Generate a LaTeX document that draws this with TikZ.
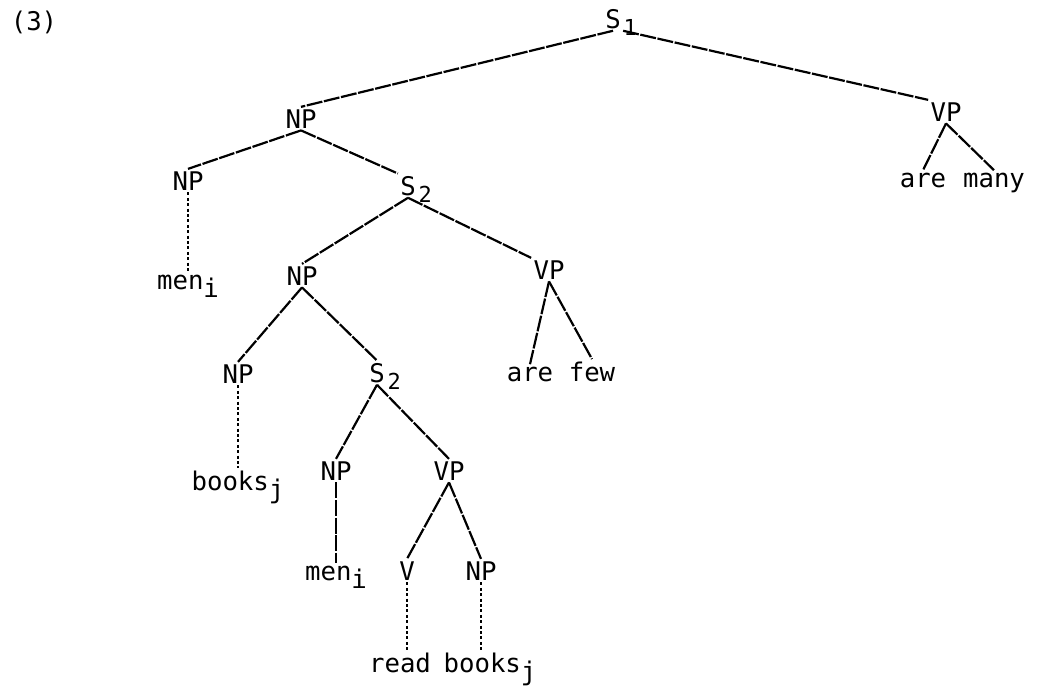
\documentclass[tikz,border=0pt]{standalone}
\usepackage{fontspec}
\newfontfamily\tw{DejaVu Sans Mono}
\newcommand\lowsub[1]{\raisebox{-4pt}[0pt][0pt]{#1}}
\begin{document}
\begin{tikzpicture}[x=0.5pt,y=-0.5pt,
  lab/.style={anchor=base, inner sep=1pt, font={\tw\fontsize{12.85}{15}\selectfont}},
  subl/.style={anchor=north west, inner sep=0pt, font={\tw\fontsize{11}{11}\selectfont}},
  br/.style={line width=1.1pt, dash pattern=on 8pt off 0.8pt},
  vt/.style={line width=1.1pt, dash pattern=on 1.5pt off 1.2pt}]
\useasboundingbox (0,0) rectangle (1037,691);
% nodes
\node[lab] (ex) at (34,30) {(3)};
\node[lab, label={[subl]east:1}] (s1) at (613,28) {S};
\node[lab] (np1) at (301,128) {NP};
\node[lab] (vp0) at (946,121) {VP};
\node[lab] (are0) at (923,187) {are};
\node[lab] (many) at (994,187) {many};
\node[lab] (np2) at (188,190) {NP};
\node[lab, label={[subl]east:2}] (s2) at (408,195) {S};
\node[lab] (men1) at (188,289) {men\lowsub{i}};
\node[lab] (np3) at (302,285) {NP};
\node[lab] (vp1) at (549,279) {VP};
\node[lab] (are1) at (530,381) {are};
\node[lab] (few) at (592,381) {few};
\node[lab] (np4) at (238,383) {NP};
\node[lab, label={[subl]east:2}] (s3) at (377,382) {S};
\node[lab] (books1) at (238,490) {books\lowsub{j}};
\node[lab] (np5) at (336,480) {NP};
\node[lab] (vp2) at (449,480) {VP};
\node[lab] (men2) at (336,580) {men\lowsub{i}};
\node[lab] (v) at (407,580) {V};
\node[lab] (np6) at (481,580) {NP};
\node[lab] (read) at (400,672) {read};
\node[lab] (books2) at (490,672) {books\lowsub{j}};
% edges
\draw[br] (s1.south) -- (np1.north);
\draw[br] (s1.south east) -- (vp0.north west);
\draw[br] (vp0.south) -- (are0.north);
\draw[br] (vp0.south) -- (many.north);
\draw[br] (np1.south) -- (np2.north);
\draw[br] (np1.south) -- (s2.north west);
\draw[vt] (np2.south) -- (np2.south |- men1.north);
\draw[br] (s2.south) -- (np3.north);
\draw[br] (s2.south) -- (vp1.north west);
\draw[br] (vp1.south) -- (are1.north);
\draw[br] (vp1.south) -- (few.north);
\draw[br] (np3.south) -- (np4.north);
\draw[br] (np3.south) -- (s3.north);
\draw[vt] (np4.south) -- (np4.south |- books1.north);
\draw[br] (s3.south) -- (np5.north);
\draw[br] (s3.south) -- (vp2.north);
\draw[br] (np5.south) -- (np5.south |- men2.north);
\draw[br] (vp2.south) -- (v.north);
\draw[br] (vp2.south) -- (np6.north);
\draw[vt] (v.south) -- (v.south |- read.north);
\draw[vt] (np6.south) -- (np6.south |- books2.north);
\end{tikzpicture}
\end{document}
